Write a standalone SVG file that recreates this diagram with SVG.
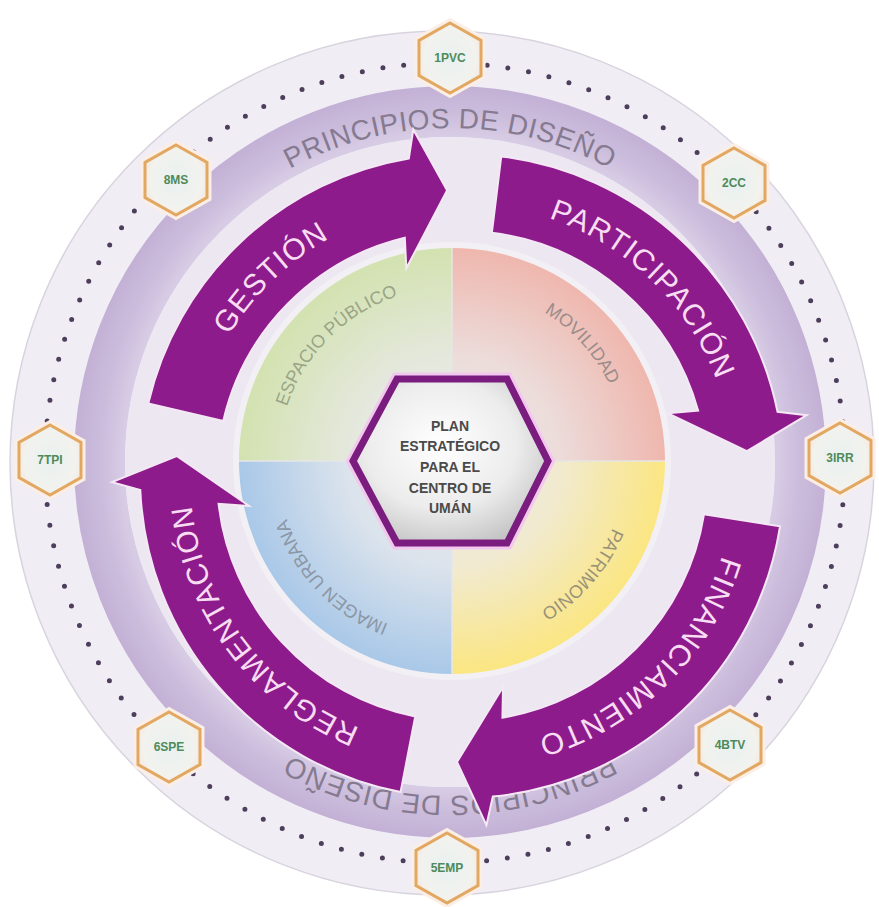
<svg xmlns="http://www.w3.org/2000/svg" width="879" height="907" viewBox="0 0 879 907">
  <defs>
    <radialGradient id="bandGrad" cx="450" cy="462" r="376" gradientUnits="userSpaceOnUse">
      <stop offset="0.86" stop-color="#d9cee6"/>
      <stop offset="0.93" stop-color="#cbbcdc"/>
      <stop offset="1" stop-color="#c3b1d5"/>
    </radialGradient>
    <radialGradient id="qGreen" cx="452" cy="461" r="213" gradientUnits="userSpaceOnUse">
      <stop offset="0" stop-color="#ececec"/>
      <stop offset="0.5" stop-color="#e4e8dc"/>
      <stop offset="1" stop-color="#d3e2b0"/>
    </radialGradient>
    <radialGradient id="qPink" cx="452" cy="461" r="213" gradientUnits="userSpaceOnUse">
      <stop offset="0" stop-color="#ececec"/>
      <stop offset="0.5" stop-color="#ecdcda"/>
      <stop offset="1" stop-color="#efb7ae"/>
    </radialGradient>
    <radialGradient id="qYellow" cx="452" cy="461" r="213" gradientUnits="userSpaceOnUse">
      <stop offset="0" stop-color="#ececec"/>
      <stop offset="0.5" stop-color="#f1ead0"/>
      <stop offset="1" stop-color="#fbe682"/>
    </radialGradient>
    <radialGradient id="qBlue" cx="452" cy="461" r="213" gradientUnits="userSpaceOnUse">
      <stop offset="0" stop-color="#ececec"/>
      <stop offset="0.5" stop-color="#dbe3ec"/>
      <stop offset="1" stop-color="#a9c8e8"/>
    </radialGradient>
    <radialGradient id="hexGrad" cx="0.45" cy="0.4" r="0.65">
      <stop offset="0" stop-color="#ffffff"/>
      <stop offset="0.6" stop-color="#ececec"/>
      <stop offset="1" stop-color="#c4c4c4"/>
    </radialGradient>
    <radialGradient id="smallHexGrad" cx="0.5" cy="0.5" r="0.6">
      <stop offset="0" stop-color="#e8f1f0"/>
      <stop offset="0.7" stop-color="#f2f2ee"/>
      <stop offset="1" stop-color="#f7e6d6"/>
    </radialGradient>
    <polygon id="shex" points="0,-35 31,-17.5 31,17.5 0,35 -31,17.5 -31,-17.5"/>
    <path id="tpTop" d="M116,462 A334,334 0 0 1 784,462"/>
    <path id="tpBottom" d="M784,462 A334,334 0 0 1 116,462"/>
    <path id="tpGestion" d="M250.62,647.18 A272,272 0 0 1 640.45,270.72"/>
    <path id="tpParticipacion" d="M283.55,270.72 A272,272 0 0 1 673.38,647.18"/>
    <path id="tpFinanciamiento" d="M671.88,302.99 A272,272 0 0 1 285.35,682.83"/>
    <path id="tpReglamentacion" d="M606.14,706.67 A272,272 0 0 1 280.00,273.87"/>
    <path id="tpEspacio" d="M328.26,584.74 A175,175 0 0 1 575.74,337.26"/>
    <path id="tpMovilidad" d="M334.90,330.95 A175,175 0 0 1 569.10,591.05"/>
    <path id="tpPatrimonio" d="M566.81,328.93 A175,175 0 0 1 337.19,593.07"/>
    <path id="tpImagen" d="M573.57,586.88 A175,175 0 0 1 330.43,335.12"/>
  </defs>
  <style>
    .arrow { fill: #8d1b8b; stroke: #f4e8f4; stroke-width: 2; stroke-linejoin: miter; }
    .arrowText { font-family: "Liberation Sans", "DejaVu Sans", sans-serif; font-size: 30px; fill: #f7dcf3; letter-spacing: 1px; }
    .bandText { font-family: "Liberation Sans", "DejaVu Sans", sans-serif; font-size: 28px; fill: #857a90; letter-spacing: 0.5px; }
    .quadText { font-family: "Liberation Sans", "DejaVu Sans", sans-serif; font-size: 18px; }
    .shexGlow { fill: none; stroke: #fbeee6; stroke-width: 9; }
    .shexShape { fill: url(#smallHexGrad); stroke: #e2a862; stroke-width: 3; }
    .shexText { font-family: "Liberation Sans", "DejaVu Sans", sans-serif; font-size: 12px; font-weight: bold; fill: #4f8a5a; text-anchor: middle; }
    .centerText { font-family: "Liberation Sans", "DejaVu Sans", sans-serif; font-size: 14px; font-weight: bold; fill: #4a4a4a; text-anchor: middle; }
  </style>
  <rect x="0" y="0" width="879" height="907" fill="#ffffff"/>

  <g id="background">
    <circle cx="442" cy="463" r="432" fill="#f1edf5" stroke="#d8d4de" stroke-width="1.5"/>
    <circle cx="445" cy="463" r="400" fill="none" stroke="#4d3f5c" stroke-width="5" stroke-linecap="round" stroke-dasharray="0 20.94"/>
    <circle cx="450" cy="462" r="350.5" fill="none" stroke="url(#bandGrad)" stroke-width="51"/>
    <circle cx="450" cy="462" r="325" fill="#ece7f1"/>
    <circle cx="452" cy="461" r="219" fill="#f3f0f5"/>
  </g>

  <g id="band-labels">
    <text class="bandText"><textPath href="#tpTop" startOffset="50%" text-anchor="middle">PRINCIPIOS DE DISEÑO</textPath></text>
    <text class="bandText"><textPath href="#tpBottom" startOffset="50%" text-anchor="middle">PRINCIPIOS DE DISEÑO</textPath></text>
  </g>

  <g id="quadrants">
    <path d="M452,461 L239,461 A213,213 0 0 1 452,248 Z" fill="url(#qGreen)"/>
    <path d="M452,461 L452,248 A213,213 0 0 1 665,461 Z" fill="url(#qPink)"/>
    <path d="M452,461 L665,461 A213,213 0 0 1 452,674 Z" fill="url(#qYellow)"/>
    <path d="M452,461 L452,674 A213,213 0 0 1 239,461 Z" fill="url(#qBlue)"/>
    <line x1="239" y1="461" x2="665" y2="461" stroke="#e6e6e6" stroke-width="1.5"/>
    <line x1="452" y1="248" x2="452" y2="674" stroke="#e6e6e6" stroke-width="1.5"/>
    <text class="quadText" fill="#9aa585"><textPath href="#tpEspacio" startOffset="50%" text-anchor="middle">ESPACIO PÚBLICO</textPath></text>
    <text class="quadText" fill="#9c8c8a"><textPath href="#tpMovilidad" startOffset="50%" text-anchor="middle">MOVILIDAD</textPath></text>
    <text class="quadText" fill="#9a9278"><textPath href="#tpPatrimonio" startOffset="50%" text-anchor="middle">PATRIMONIO</textPath></text>
    <text class="quadText" fill="#8c97a5"><textPath href="#tpImagen" startOffset="50%" text-anchor="middle">IMAGEN URBANA</textPath></text>
  </g>

  <g id="connectors">
    <g id="arrow-gestion">
      <path class="arrow" d="M148.25,403.57 A322,322 0 0 1 408.85,158.41 L413.29,129.41 L447.03,190.39 L406.35,268.33 L404.80,237.77 A245,245 0 0 0 223.28,420.89 Z"/>
      <text class="arrowText"><textPath href="#tpGestion" startOffset="50%" text-anchor="middle">GESTIÓN</textPath></text>
    </g>
    <g id="arrow-participacion">
      <path class="arrow" d="M501.24,156.40 A322,322 0 0 1 777.53,411.80 L806.68,415.22 L746.91,451.07 L667.60,413.14 L698.09,410.53 A245,245 0 0 0 491.86,232.83 Z"/>
      <text class="arrowText"><textPath href="#tpParticipacion" startOffset="50%" text-anchor="middle">PARTICIPACIÓN</textPath></text>
    </g>
    <g id="arrow-financiamiento">
      <path class="arrow" d="M780.04,526.37 A322,322 0 0 1 492.86,796.52 L486.42,825.15 L457.01,761.96 L503.02,687.05 L502.44,717.64 A245,245 0 0 0 703.98,514.33 Z"/>
      <text class="arrowText"><textPath href="#tpFinanciamiento" startOffset="50%" text-anchor="middle">FINANCIAMIENTO</textPath></text>
    </g>
    <g id="arrow-reglamentacion">
      <path class="arrow" d="M400.56,792.08 A322,322 0 0 1 140.31,490.05 L112.05,482.11 L176.70,456.05 L249.09,505.92 L218.58,503.73 A245,245 0 0 0 415.25,716.50 Z"/>
      <text class="arrowText"><textPath href="#tpReglamentacion" startOffset="50%" text-anchor="middle">REGLAMENTACIÓN</textPath></text>
    </g>
  </g>

  <g id="center-hex">
    <polygon points="353,461 397,379 507,379 548,461 507,543 397,543" fill="none" stroke="#f2c8ee" stroke-width="13" stroke-linejoin="miter"/>
    <polygon points="353,461 397,379 507,379 548,461 507,543 397,543" fill="url(#hexGrad)" stroke="#7b1d7e" stroke-width="7" stroke-linejoin="miter"/>
    <text class="centerText" x="450" y="431">PLAN</text>
    <text class="centerText" x="450" y="451">ESTRATÉGICO</text>
    <text class="centerText" x="450" y="472">PARA EL</text>
    <text class="centerText" x="450" y="493">CENTRO DE</text>
    <text class="centerText" x="450" y="513">UMÁN</text>
  </g>

  <g id="hex-1PVC" transform="translate(450,58)"><use href="#shex" class="shexGlow"/><use href="#shex" class="shexShape"/><text class="shexText" y="4">1PVC</text></g>
  <g id="hex-2CC" transform="translate(734,183)"><use href="#shex" class="shexGlow"/><use href="#shex" class="shexShape"/><text class="shexText" y="4">2CC</text></g>
  <g id="hex-3IRR" transform="translate(840,458)"><use href="#shex" class="shexGlow"/><use href="#shex" class="shexShape"/><text class="shexText" y="4">3IRR</text></g>
  <g id="hex-4BTV" transform="translate(730,745)"><use href="#shex" class="shexGlow"/><use href="#shex" class="shexShape"/><text class="shexText" y="4">4BTV</text></g>
  <g id="hex-5EMP" transform="translate(447,868)"><use href="#shex" class="shexGlow"/><use href="#shex" class="shexShape"/><text class="shexText" y="4">5EMP</text></g>
  <g id="hex-6SPE" transform="translate(169,747)"><use href="#shex" class="shexGlow"/><use href="#shex" class="shexShape"/><text class="shexText" y="4">6SPE</text></g>
  <g id="hex-7TPI" transform="translate(50,460)"><use href="#shex" class="shexGlow"/><use href="#shex" class="shexShape"/><text class="shexText" y="4">7TPI</text></g>
  <g id="hex-8MS" transform="translate(176,180)"><use href="#shex" class="shexGlow"/><use href="#shex" class="shexShape"/><text class="shexText" y="4">8MS</text></g>
</svg>
